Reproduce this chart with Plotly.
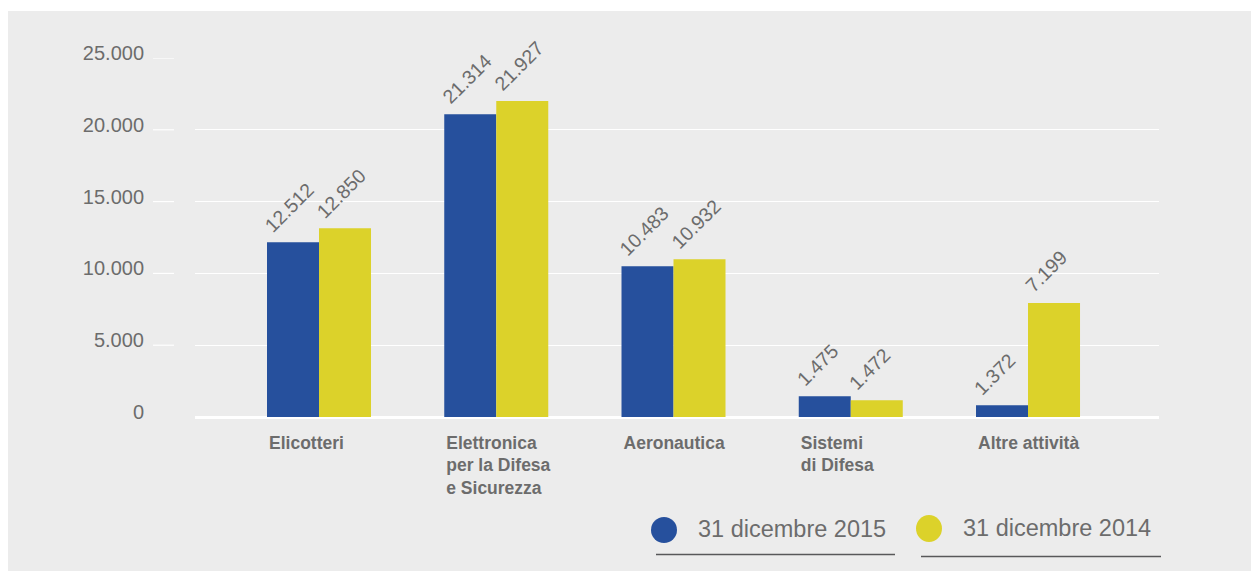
import plotly.graph_objects as go

# ---- data ----
categories = ["Elicotteri", "Elettronica<br>per la Difesa<br>e Sicurezza", "Aeronautica",
              "Sistemi<br>di Difesa", "Altre attività"]
series_names = ["31 dicembre 2015", "31 dicembre 2014"]
values_2015 = [12170, 21090, 10500, 1440, 815]      # bar heights as drawn
values_2014 = [13150, 22000, 10990, 1165, 7945]
labels_2015 = ["12.512", "21.314", "10.483", "1.475", "1.372"]
labels_2014 = ["12.850", "21.927", "10.932", "1.472", "7.199"]
y_tickvals = [0, 5000, 10000, 15000, 20000, 25000]
y_ticktext = ["0", "5.000", "10.000", "15.000", "20.000", "25.000"]

# ---- style ----
W, H = 1251, 571
ML, MR, MT, MB = 195, 92, 58, 154
PW, PH = W - ML - MR, H - MT - MB
BG = "#ececec"
BLUE = "#26509d"
YELLOW = "#dcd22a"
TXT = "#6c6c6c"
FONT = "Liberation Sans, Arial, sans-serif"
BAR_W = 0.2934


def px2x(px):
    return (px - ML) / PW


def py2y(py):
    return (H - MB - py) / PH


x_idx = list(range(len(categories)))

fig = go.Figure()
fig.add_trace(go.Bar(x=x_idx, y=values_2015, name=series_names[0], marker_color=BLUE,
                     marker_line_width=0, showlegend=False))
fig.add_trace(go.Bar(x=x_idx, y=values_2014, name=series_names[1], marker_color=YELLOW,
                     marker_line_width=0, showlegend=False))

annotations = []
# rotated value labels
for i in x_idx:
    for off, vals, labs in ((-BAR_W, values_2015, labels_2015), (0.0, values_2014, labels_2014)):
        annotations.append(dict(
            x=i + off, y=vals[i], xref="x", yref="y", text=labs[i], textangle=-45,
            xanchor="left", yanchor="bottom", showarrow=False, borderpad=0,
            xshift=-8, yshift=5, font=dict(family=FONT, size=19.5, color=TXT)))

# legend (manual)
shapes = []
legend_items = [
    (BLUE, (651, 677, 517, 543), 697, 529, (656, 895, 554.5), series_names[0]),
    (YELLOW, (916, 942, 515, 542), 962, 528, (921, 1161, 556.5), series_names[1]),
]
for col, (cx0, cx1, cy0, cy1), tx, ty, (lx0, lx1, ly), name in legend_items:
    shapes.append(dict(type="circle", xref="paper", yref="paper",
                       x0=px2x(cx0), x1=px2x(cx1), y0=py2y(cy1), y1=py2y(cy0),
                       fillcolor=col, line_width=0))
    shapes.append(dict(type="line", xref="paper", yref="paper",
                       x0=px2x(lx0), x1=px2x(lx1), y0=py2y(ly), y1=py2y(ly),
                       line=dict(color="#58585a", width=1.5)))
    annotations.append(dict(x=px2x(tx), y=py2y(ty), xref="paper", yref="paper", text=name,
                            xanchor="left", yanchor="middle", showarrow=False, borderpad=0,
                            font=dict(family=FONT, size=23.5, color=TXT)))

# short tick segments left of the plot
for v in y_tickvals[1:]:
    shapes.append(dict(type="line", xref="paper", yref="y", x0=px2x(153), x1=px2x(174),
                       y0=v, y1=v, line=dict(color="white", width=1.2)))

# white frame strips (top and left)
shapes.append(dict(type="rect", xref="paper", yref="paper", x0=px2x(-5), x1=px2x(W + 5),
                   y0=py2y(11), y1=py2y(-5), fillcolor="white", line_width=0, layer="below"))
shapes.append(dict(type="rect", xref="paper", yref="paper", x0=px2x(-5), x1=px2x(8),
                   y0=py2y(H + 5), y1=py2y(-5), fillcolor="white", line_width=0, layer="below"))

fig.update_layout(
    width=W, height=H,
    margin=dict(l=ML, r=MR, t=MT, b=MB, pad=0),
    paper_bgcolor=BG, plot_bgcolor=BG,
    barmode="group", bargap=1 - 2 * BAR_W, bargroupgap=0,
    showlegend=False,
    font=dict(family=FONT, color=TXT),
    annotations=annotations, shapes=shapes,
    xaxis=dict(
        range=[-0.6996, 4.739], tickvals=x_idx, ticktext=categories,
        showgrid=False, zeroline=False, showline=False, ticks="",
        ticklabelposition="outside right", ticklabelshift=-50, ticklabelstandoff=13,
        tickfont=dict(family=FONT, size=17.5, color=TXT, weight="bold"),
    ),
    yaxis=dict(
        range=[0, 25000], tickvals=y_tickvals, ticktext=y_ticktext,
        showgrid=True, gridcolor="white", gridwidth=1.2,
        zeroline=True, zerolinecolor="white", zerolinewidth=3,
        showline=False, ticks="", ticklabelstandoff=50, ticklabelshift=-5,
        tickfont=dict(family=FONT, size=20, color=TXT),
    ),
)

fig.write_html("out.html")
